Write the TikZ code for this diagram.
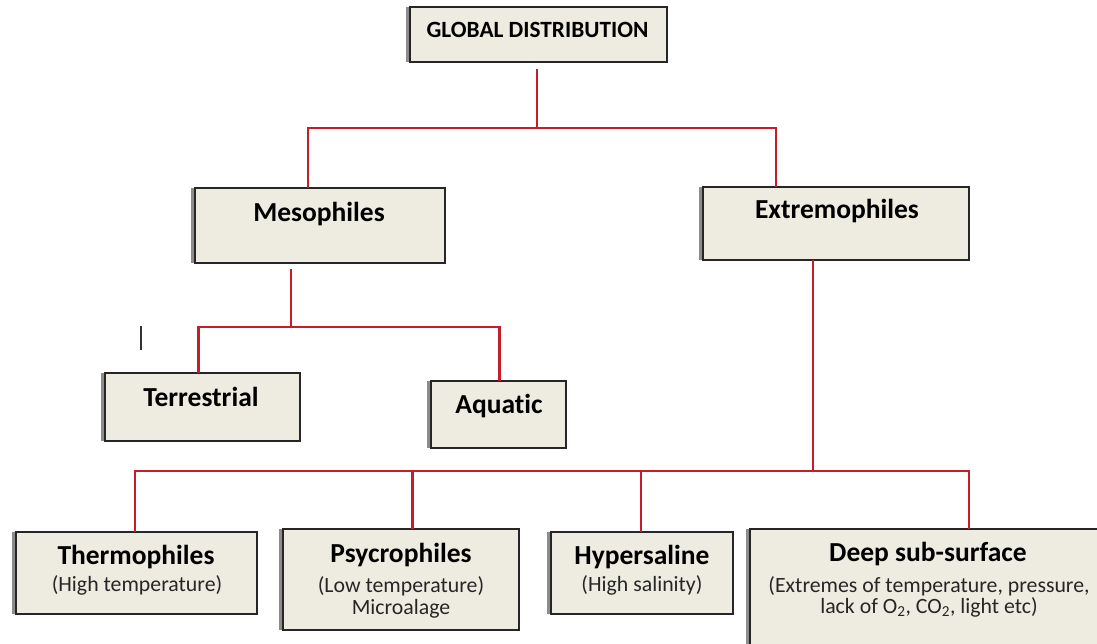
\documentclass[tikz,border=0pt]{standalone}
\usepackage{fontspec}
\setmainfont{Carlito}[Ligatures=NoCommon]
\usetikzlibrary{shadows}
\definecolor{boxtan}{HTML}{EEECE1}
\definecolor{linkred}{RGB}{196,30,42}

\begin{document}
\begin{tikzpicture}
  [x=1pt, y=-1pt,
  box/.style={rectangle, draw=black!85, fill=boxtan, line width=1.2pt, inner sep=0pt, outer sep=0pt,
    general shadow={fill=black!45, shadow xshift=-4pt}},
  title/.style={anchor=base, inner sep=0pt, font=\fontsize{27.5}{30}\selectfont\bfseries},
  sub/.style={anchor=base, inner sep=0pt, text=black!85, font=\fontsize{21.8}{24}\selectfont},
  link/.style={draw=linkred, line width=2.2pt}]
  \useasboundingbox (0,0) rectangle (1097,644);
  \clip (0,0) rectangle (1097,644);
  \fill[white] (0,0) rectangle (1097,644);

  % boxes
  \node [box, minimum width=257pt, minimum height=55pt] (gd) at (538.5,34.5) {};
  \node [box, minimum width=250pt, minimum height=75pt] (meso) at (320,225.5) {};
  \node [box, minimum width=266pt, minimum height=73pt] (extr) at (836,223.5) {};
  \node [box, minimum width=195pt, minimum height=68pt] (terr) at (202.5,407) {};
  \node [box, minimum width=135pt, minimum height=67pt] (aqua) at (498.5,414.5) {};
  \node [box, minimum width=241pt, minimum height=82pt] (thermo) at (136.5,573) {};
  \node [box, minimum width=236pt, minimum height=101pt] (psyc) at (401,579.5) {};
  \node [box, minimum width=182pt, minimum height=82pt] (hyper) at (642,573) {};
  \node [box, minimum width=360pt, minimum height=131pt] (deep) at (930,594.5) {};

  % texts
  \node [title, font=\fontsize{23.3}{26}\selectfont\bfseries] (gd-t) at (537.5,38) {GLOBAL DISTRIBUTION};
  \node [title] (meso-t) at (319,222) {Mesophiles};
  \node [title] (extr-t) at (837,219) {Extremophiles};
  \node [title] (terr-t) at (201,406) {Terrestrial};
  \node [title] (aqua-t) at (499,413) {Aquatic};
  \node [title] (thermo-t) at (136,564) {Thermophiles};
  \node [sub] (thermo-s) at (137,591) {(High temperature)};
  \node [title] (psyc-t) at (401,562) {Psycrophiles};
  \node [sub] (psyc-s) at (401,592) {(Low temperature)};
  \node [sub] (psyc-s2) at (401,614) {Microalage};
  \node [title] (hyper-t) at (642,564) {Hypersaline};
  \node [sub] (hyper-s) at (642,591) {(High salinity)};
  \node [title] (deep-t) at (928,561) {Deep sub-surface};
  \node [sub] (deep-s) at (929,592) {(Extremes of temperature, pressure,};
  \node [sub] (deep-s2) at (929,613) {lack of O\textsubscript{2}, CO\textsubscript{2}, light etc)};

  % connectors
  \coordinate (busA) at (537,128);
  \coordinate (busB) at (291,327);
  \coordinate (busC) at (813,471);
  \draw [link] ([yshift=-7pt]busA |- gd.south) -- (busA);
  \draw [link] ([xshift=-12pt]meso.north) |- ([xshift=-60pt]extr.north |- busA) -- ([xshift=-60pt]extr.north);
  \draw [link] ([yshift=-6pt]busB |- meso.south) -- (busB);
  \draw [link] ([xshift=-4pt]terr.north) |- (busB) -| ([xshift=1pt]aqua.north);
  \draw [link] (busC |- extr.south) -- (busC);
  \draw [link] ([xshift=-1.5pt]thermo.north) |- (busC) -| ([xshift=39pt]deep.north);
  \draw [link] ([xshift=11.5pt]psyc.north) -- ([xshift=11.5pt]psyc.north |- busC);
  \draw [link] ([xshift=-1pt]hyper.north) -- ([xshift=-1pt]hyper.north |- busC);

  % stray cursor mark
  \draw [black!80, line width=1.5pt] (141,326) -- (141,350);
\end{tikzpicture}
\end{document}
